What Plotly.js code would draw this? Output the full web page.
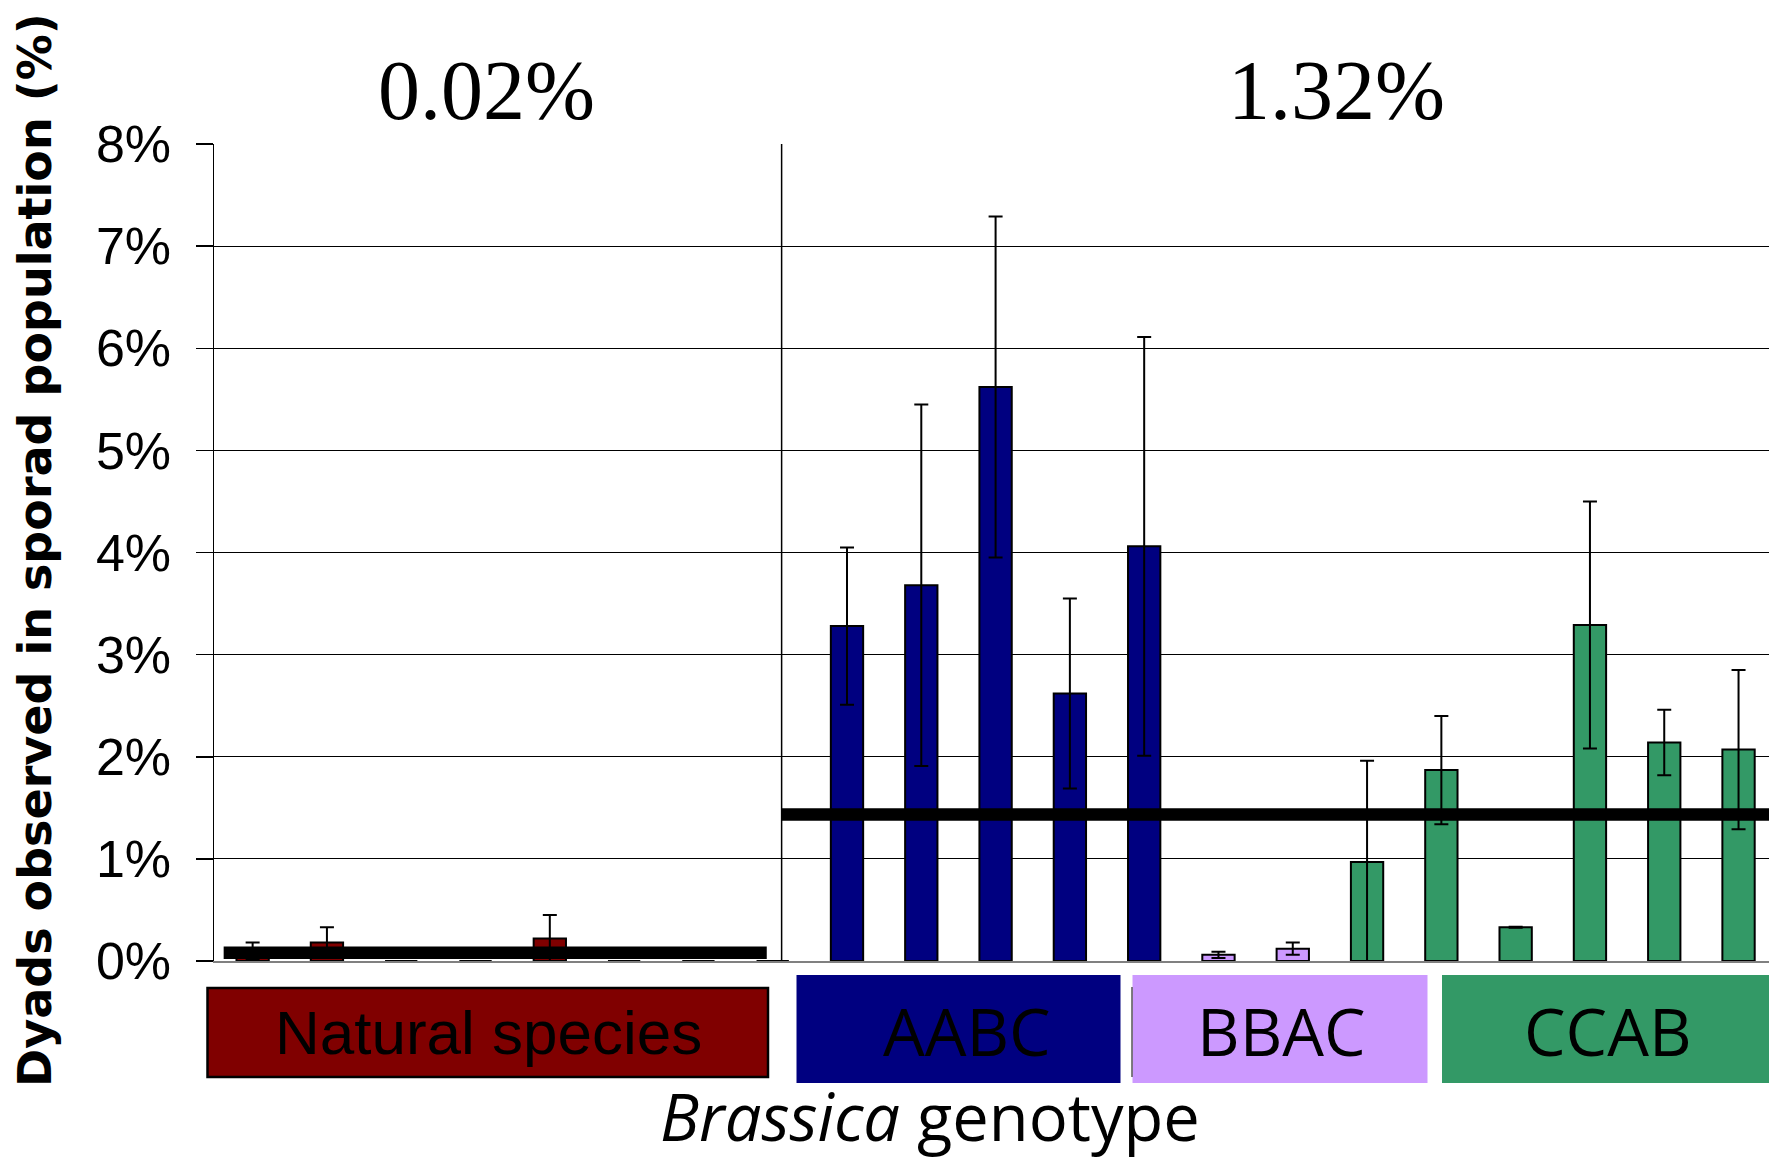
<!DOCTYPE html>
<html>
<head>
<meta charset="utf-8">
<script src="https://cdn.plot.ly/plotly-3.0.1.min.js"></script>
<style>html,body{margin:0;padding:0;background:#fff;overflow:hidden}#chart{width:1769px;height:1160px}</style>
</head>
<body>
<div id="chart"></div>
<script>
// ---- data ----
const categories = [
  "N1","N2","N3","N4","N5","N6","N7","N8",
  "AABC1","AABC2","AABC3","AABC4","AABC5",
  "BBAC1","BBAC2",
  "CCAB1","CCAB2","CCAB3","CCAB4","CCAB5","CCAB6"
];
const groups = [
  "Natural species","Natural species","Natural species","Natural species","Natural species","Natural species","Natural species","Natural species",
  "AABC","AABC","AABC","AABC","AABC",
  "BBAC","BBAC",
  "CCAB","CCAB","CCAB","CCAB","CCAB","CCAB"
];
const dyadPercent = [
  0.10, 0.18, 0, 0, 0.22, 0, 0, 0,
  3.28, 3.68, 5.62, 2.62, 4.06,
  0.06, 0.12,
  0.97, 1.87, 0.33, 3.29, 2.14, 2.07
];
const errorPercent = [
  0.08, 0.15, 0, 0, 0.23, 0, 0, 0,
  0.77, 1.77, 1.67, 0.93, 2.05,
  0.03, 0.06,
  0.99, 0.53, 0.005, 1.21, 0.32, 0.78
];
const groupMeanPercent = [0.08, 1.435];      // thick black mean lines
const groupMeanLabels = ["0.02%", "1.32%"];
const groupLabels = ["Natural species", "AABC", "BBAC", "CCAB"];
const groupColors = {"Natural species":"#800000", "AABC":"#000080", "BBAC":"#CC99FF", "CCAB":"#339966"};
const yTicks = [0,1,2,3,4,5,6,7,8];

// ---- layout helpers (pixel -> paper) ----
const W = 1769, H = 1160, L = 214, T = 144, B = 199, R = 0;
const PW = W - L - R, PH = H - T - B;
const px = v => (v - L) / PW;
const py = v => (H - B - v) / PH;

const xIdx = categories.map((c, i) => i);
const barColors = groups.map(g => groupColors[g]);

const traces = [
  {
    type: "bar", x: xIdx, y: dyadPercent, width: 0.435,
    marker: {color: barColors, line: {color: "#000", width: 2}},
    error_y: {type: "data", array: errorPercent, visible: true, color: "#000", thickness: 2, width: 7},
    hoverinfo: "skip", showlegend: false
  },
  {
    type: "scatter", mode: "lines", x: [-0.39, 6.92], y: [groupMeanPercent[0], groupMeanPercent[0]],
    line: {color: "#000", width: 12.5}, hoverinfo: "skip", showlegend: false, cliponaxis: true
  },
  {
    type: "scatter", mode: "lines", x: [7.12, 21.5], y: [groupMeanPercent[1], groupMeanPercent[1]],
    line: {color: "#000", width: 12.5}, hoverinfo: "skip", showlegend: false, cliponaxis: true
  }
];

const boxFont = {family: "Open Sans, Noto Sans, sans-serif", size: 66, color: "#000"};
const shapes = [
  {type: "line", xref: "x", yref: "y", x0: 7.12, x1: 7.12, y0: 0, y1: 8, line: {color: "#000", width: 1.5}, layer: "below"},
  {type: "rect", xref: "paper", yref: "paper", x0: px(207.5), x1: px(768), y0: py(988), y1: py(1077), fillcolor: groupColors["Natural species"], line: {color: "#000", width: 2.5}},
  {type: "rect", xref: "paper", yref: "paper", x0: px(796.5), x1: px(1120.5), y0: py(975), y1: py(1083), fillcolor: groupColors["AABC"], line: {width: 0}},
  {type: "rect", xref: "paper", yref: "paper", x0: px(1132.5), x1: px(1427.5), y0: py(975), y1: py(1083), fillcolor: groupColors["BBAC"], line: {width: 0}},
  {type: "line", xref: "paper", yref: "paper", x0: px(1132), x1: px(1132), y0: py(987), y1: py(1077), line: {color: "#555", width: 1.5}},
  {type: "rect", xref: "paper", yref: "paper", x0: px(1442), x1: px(1800), y0: py(975), y1: py(1083), fillcolor: groupColors["CCAB"], line: {width: 0}}
];

const annotations = [
  {xref: "paper", yref: "paper", x: px(488), y: py(1032), text: groupLabels[0], showarrow: false, xanchor: "center", yanchor: "middle",
   font: {family: "Liberation Sans, Arial, sans-serif", size: 62, color: "#000"}},
  {xref: "paper", yref: "paper", x: px(967), y: py(1030), text: groupLabels[1], showarrow: false, xanchor: "center", yanchor: "middle", font: boxFont},
  {xref: "paper", yref: "paper", x: px(1281), y: py(1030), text: groupLabels[2], showarrow: false, xanchor: "center", yanchor: "middle", font: boxFont},
  {xref: "paper", yref: "paper", x: px(1608), y: py(1030), text: groupLabels[3], showarrow: false, xanchor: "center", yanchor: "middle", font: boxFont},
  {xref: "paper", yref: "paper", x: px(930), y: py(1116), text: "<i>Brassica</i> genotype", showarrow: false, xanchor: "center", yanchor: "middle",
   borderpad: 0, font: {family: "Open Sans, Noto Sans, sans-serif", size: 65, color: "#000"}},
  {xref: "paper", yref: "paper", x: px(486), y: py(90), text: groupMeanLabels[0], showarrow: false, xanchor: "center", yanchor: "middle",
   font: {family: "Liberation Serif, Times New Roman, serif", size: 84, color: "#000"}},
  {xref: "paper", yref: "paper", x: px(1336), y: py(90), text: groupMeanLabels[1], showarrow: false, xanchor: "center", yanchor: "middle",
   font: {family: "Liberation Serif, Times New Roman, serif", size: 84, color: "#000"}},
  {xref: "paper", yref: "paper", x: px(35), y: py(550), text: "Dyads observed in sporad population (%)", showarrow: false, textangle: -90,
   xanchor: "center", yanchor: "middle", font: {family: "DejaVu Sans, Verdana, sans-serif", size: 46, color: "#000", weight: "bold"}}
];

const layout = {
  width: W, height: H,
  margin: {l: L, r: R, t: T, b: B, pad: 0},
  paper_bgcolor: "#fff", plot_bgcolor: "#fff",
  showlegend: false,
  bargap: 0.5,
  xaxis: {
    range: [-0.52, 20.41], showticklabels: false, ticks: "", showgrid: false, zeroline: false,
    showline: true, linecolor: "#808080", linewidth: 2, fixedrange: true
  },
  yaxis: {
    range: [0, 8], tickvals: yTicks, ticktext: yTicks.map(v => v + "%"),
    showgrid: true, gridcolor: "#000", gridwidth: 1, zeroline: false,
    showline: true, linecolor: "#000", linewidth: 1.5,
    ticks: "outside", ticklen: 17, tickwidth: 1.5, tickcolor: "#000",
    ticklabelstandoff: 14,
    tickfont: {family: "Liberation Sans, Arial, sans-serif", size: 52, color: "#000"},
    fixedrange: true
  },
  shapes: shapes,
  annotations: annotations
};

Plotly.newPlot("chart", traces, layout, {displayModeBar: false, staticPlot: true});
</script>
</body>
</html>
